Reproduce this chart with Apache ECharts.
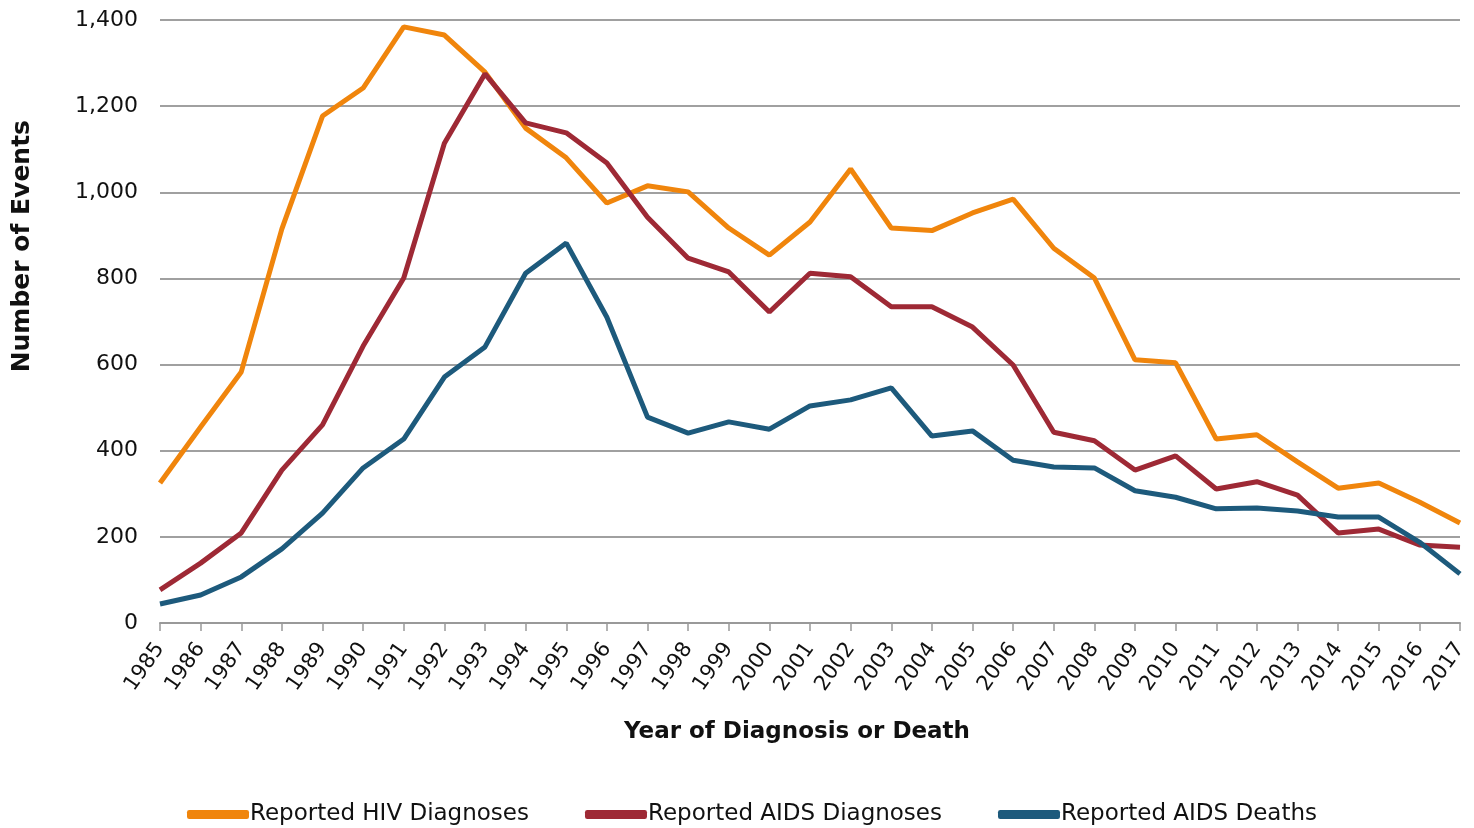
<!DOCTYPE html>
<html>
<head>
<meta charset="utf-8">
<script src="https://cdn.jsdelivr.net/npm/echarts@6/dist/echarts.min.js"></script>
<style>
  html, body { margin: 0; padding: 0; background: #fff; }
  #chart { width: 1474px; height: 828px; }
</style>
</head>
<body>
<div id="chart"></div>
<script>
var years = ['1985', '1986', '1987', '1988', '1989', '1990', '1991', '1992', '1993', '1994',
  '1995', '1996', '1997', '1998', '1999', '2000', '2001', '2002', '2003', '2004', '2005',
  '2006', '2007', '2008', '2009', '2010', '2011', '2012', '2013', '2014', '2015', '2016', '2017'];

var hivDiagnoses = [325, 455, 583, 915, 1177, 1242, 1384, 1365, 1279, 1149, 1080, 975, 1015,
  1001, 917, 854, 931, 1054, 917, 911, 952, 984, 870, 801, 611, 604, 427, 437, 374, 313,
  325, 281, 232];

var aidsDiagnoses = [77, 139, 209, 355, 460, 643, 801, 1114, 1275, 1161, 1138, 1068, 942, 847,
  815, 722, 812, 804, 734, 734, 687, 599, 443, 423, 355, 388, 311, 328, 297, 209, 218,
  181, 176];

var aidsDeaths = [44, 65, 107, 172, 255, 360, 427, 571, 641, 812, 882, 710, 478, 441, 467, 450,
  504, 518, 546, 434, 446, 378, 362, 360, 307, 292, 265, 267, 260, 246, 246, 188, 114];

var seriesNames = ['Reported HIV Diagnoses', 'Reported AIDS Diagnoses', 'Reported AIDS Deaths'];
var colors = ['#f0850c', '#9e2935', '#1d5a7c'];

var chart = echarts.init(document.getElementById('chart'));

function lineSeries(name, data, color) {
  return {
    name: name,
    type: 'line',
    data: data,
    symbol: 'none',
    lineStyle: { width: 5, color: color },
    itemStyle: { color: color }
  };
}

var option = {
  animation: false,
  grid: { left: 160, right: 14, top: 20, bottom: 205 },
  legend: {
    bottom: -3,
    left: 182,
    icon: 'roundRect',
    itemWidth: 62,
    itemHeight: 9,
    itemGap: 56,
    textStyle: { fontFamily: 'DejaVu Sans', fontSize: 23, color: '#111', padding: [0, 0, 0, -4] },
    data: seriesNames
  },
  xAxis: {
    type: 'category',
    data: years,
    boundaryGap: false,
    name: 'Year of Diagnosis or Death',
    nameLocation: 'middle',
    nameGap: 98,
    nameTextStyle: { fontFamily: 'DejaVu Sans', fontWeight: 'bold', fontSize: 23, color: '#111', padding: [0, 26, 0, 0] },
    axisLine: { lineStyle: { color: '#999', width: 2 } },
    axisTick: { length: 8, lineStyle: { color: '#999', width: 1.5 } },
    axisLabel: { rotate: 55, fontFamily: 'DejaVu Sans', fontSize: 21, color: '#111', margin: 22 },
    splitLine: { show: false }
  },
  yAxis: {
    type: 'value',
    min: 0,
    max: 1400,
    interval: 200,
    axisLine: { show: false },
    axisTick: { show: false },
    axisLabel: {
      fontFamily: 'DejaVu Sans',
      fontSize: 22,
      color: '#111',
      margin: 22,
      formatter: function (v) { return v.toLocaleString('en-US'); }
    },
    splitLine: { lineStyle: { color: '#a0a0a0', width: 2 } }
  },
  graphic: [{
    type: 'text',
    left: 10,
    top: 120,
    rotation: Math.PI / 2,
    style: {
      text: 'Number of Events',
      fontFamily: 'DejaVu Sans',
      fontWeight: 'bold',
      fontSize: 25,
      fill: '#111'
    }
  }],
  series: [
    lineSeries(seriesNames[0], hivDiagnoses, colors[0]),
    lineSeries(seriesNames[1], aidsDiagnoses, colors[1]),
    lineSeries(seriesNames[2], aidsDeaths, colors[2])
  ]
};

chart.setOption(option);

window.addEventListener('resize', function () {
  chart.resize();
});
</script>
</body>
</html>
